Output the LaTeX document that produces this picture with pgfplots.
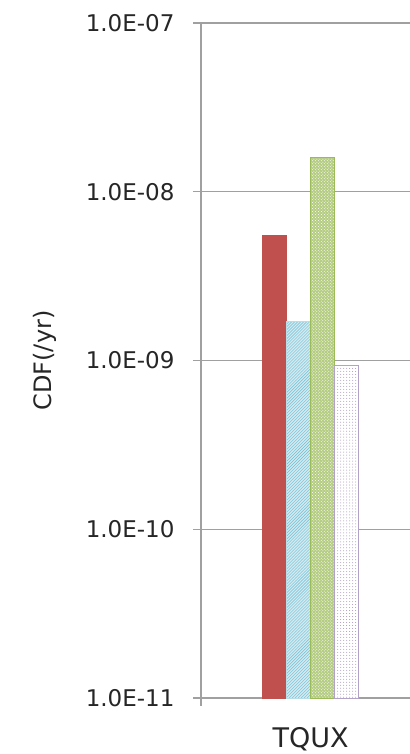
\documentclass[border=0pt]{standalone}
\usepackage{pgfplots}
\pgfplotsset{compat=1.18}
\usepackage{fontspec}
\setmainfont{DejaVu Sans}
\usetikzlibrary{patterns}
\definecolor{cred}{HTML}{C0504D}
\definecolor{ccyan}{HTML}{4BACC6}
\definecolor{cgreen}{HTML}{9BBB59}
\definecolor{cpurp}{HTML}{8064A2}
\definecolor{gridc}{HTML}{A0A0A0}
\begin{document}
\begin{tikzpicture}
\begin{axis}[
  name=ax,
  scale only axis,
  width=209bp, height=675bp,
  ymode=log, log origin=infty,
  ymin=1e-11, ymax=1e-7,
  xmin=-0.5, xmax=0.454,
  axis x line*=bottom, axis y line*=left,
  axis line style={draw=gridc, line width=1.2bp},
  ytick={1e-11,1e-10,1e-9,1e-8,1e-7},
  yticklabels={1.0E-11,1.0E-10,1.0E-09,1.0E-08,1.0E-07},
  yminorticks=false, yminorgrids=false,
  ymajorgrids, grid style={draw=gridc, line width=1.2bp},
  tick align=outside, major tick length=8bp,
  tick style={draw=gridc, line width=1.2bp},
  yticklabel style={font=\fontsize{23bp}{27bp}\selectfont, text=black!85, xshift=-15bp},
  xtick={-0.5}, xticklabels={},
  extra x ticks={0}, extra x tick labels={TQUX},
  extra x tick style={major tick length=0pt, xmajorgrids=false,
     xticklabel style={font=\fontsize{27bp}{31bp}\selectfont, text=black!85, yshift=-26bp}},
  ybar, bar width=0.11,
  clip=false,
]
\addplot[bar shift=-0.165, fill=cred, draw=cred] coordinates {(0,5.5e-9)};
\addplot[bar shift=-0.055, fill=ccyan!25, draw=ccyan!40, postaction={pattern=north east lines, pattern color=ccyan!80}] coordinates {(0,1.7e-9)};
\addplot[bar shift=0.055, fill=cgreen!75, draw=cgreen, line width=1bp, postaction={pattern=crosshatch dots, pattern color=white}] coordinates {(0,1.6e-8)};
\addplot[bar shift=0.165, fill=white, draw=cpurp!60, line width=1bp, postaction={pattern=dots, pattern color=cpurp!70}] coordinates {(0,9.4e-10)};
\end{axis}
\node[rotate=90, font=\fontsize{24bp}{28bp}\selectfont, text=black!85] at ([xshift=-156bp]ax.west) {CDF(/yr)};
\pgfresetboundingbox
\path ([xshift=-201bp,yshift=-56bp]ax.south west) rectangle ([yshift=23bp]ax.north east);
\end{tikzpicture}
\end{document}
